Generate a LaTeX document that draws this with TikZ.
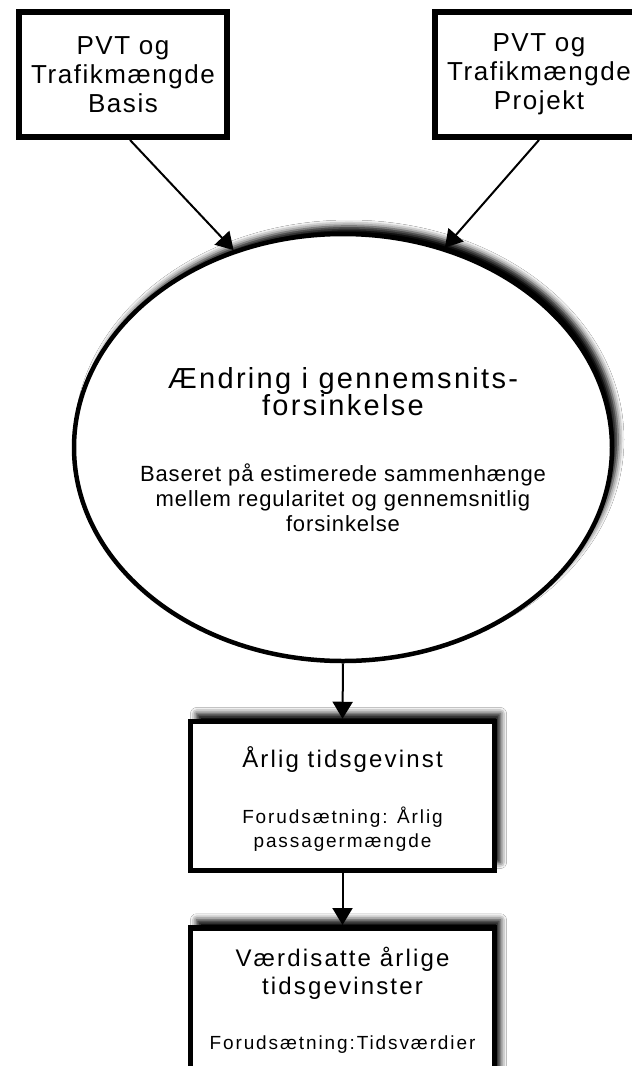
\documentclass[tikz,border=0pt]{standalone}
\usepackage{fontspec}
\setmainfont{Liberation Sans}
\newfontfamily\fA[LetterSpace=6]{Liberation Sans}
\newfontfamily\fT[LetterSpace=8]{Liberation Sans}
\newfontfamily\fS[LetterSpace=4]{Liberation Sans}
\newfontfamily\fB[LetterSpace=9]{Liberation Sans}
\newfontfamily\fC[LetterSpace=10]{Liberation Sans}
\usetikzlibrary{arrows.meta,shapes.geometric,shadows.blur}
\begin{document}
\begin{tikzpicture}[x=1pt,y=1pt,
  topbox/.style={draw,line width=6pt,fill=white,minimum width=208pt,minimum height=125pt,inner sep=0pt,align=center,font=\fA\fontsize{26}{29}\selectfont},
  shbox/.style={draw,line width=5.5pt,fill=white,inner sep=0pt,blur shadow={shadow xshift=6pt,shadow yshift=8pt,shadow blur radius=6pt,shadow opacity=100}},
  arr/.style={line width=2pt,-{Triangle[width=20pt,length=17pt]}},
  txt/.style={anchor=base,inner sep=0pt},
  ttl/.style={txt,font=\fT\fontsize{29}{27}\selectfont},
  sub/.style={txt,font=\fS\fontsize{22}{25}\selectfont},
  btl/.style={txt,font=\fB\fontsize{24}{27}\selectfont},
  bsb/.style={txt,font=\fC\fontsize{19}{24}\selectfont}
]
\useasboundingbox (0,0) rectangle (632,-1066);
\clip (0,0) rectangle (632,-1066);
\fill[white] (0,0) rectangle (632,-1066);
\node[topbox] (A) at (123,-74.5) {PVT og\\Trafikmængde\\Basis};
\node[topbox] (B) at (539,-74.5) {PVT og\\Trafikmængde\\Projekt};
\node[shbox,ellipse,line width=4.5pt,minimum width=538pt,minimum height=427pt] (E) at (343,-447.5) {};
\node[shbox,minimum width=304pt,minimum height=149pt] (C) at (342.5,-796) {};
\node[shbox,minimum width=304pt,minimum height=182pt] (D) at (342.5,-1018.75) {};
\draw[arr] ([xshift=7pt]A.south) -- (E.119);
\draw[arr] (B.south) -- (E.63.5);
\draw[arr] (E.south) -- (C.north);
\draw[arr] (C.south) -- (D.north);
\node[ttl] (e1) at (343,-388) {Ændring i gennemsnits-};
\node[ttl] (e2) at (343,-415) {forsinkelse};
\node[sub] (e3) at (343,-481) {Baseret på estimerede sammenhænge};
\node[sub] (e4) at (343,-506) {mellem regularitet og gennemsnitlig};
\node[sub] (e5) at (343,-531) {forsinkelse};
\node[btl] (c1) at (342.5,-767) {Årlig tidsgevinst};
\node[bsb] (c2) at (342.5,-823) {Forudsætning: Årlig};
\node[bsb] (c3) at (342.5,-847) {passagermængde};
\node[btl] (d1) at (342.5,-966) {Værdisatte årlige};
\node[btl] (d2) at (342.5,-994) {tidsgevinster};
\node[bsb] (d3) at (342.5,-1049) {Forudsætning:Tidsværdier};
\end{tikzpicture}
\end{document}
